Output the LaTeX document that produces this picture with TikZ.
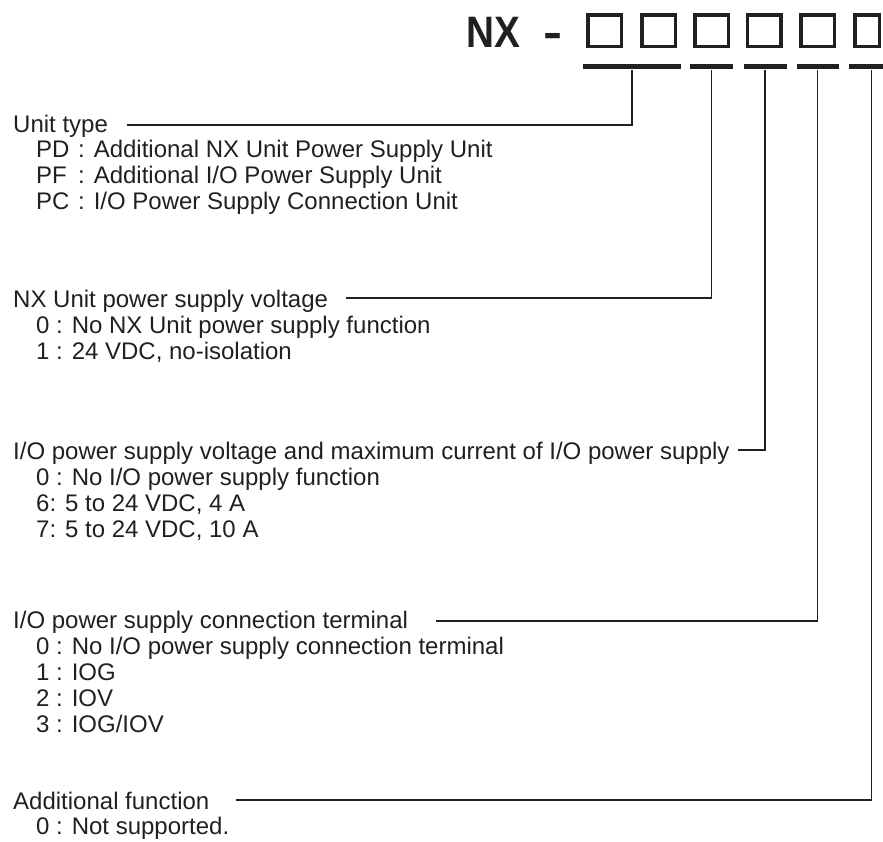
\documentclass[tikz,border=0pt]{standalone}
\usepackage{fontspec}
\setmainfont{Liberation Sans}
\definecolor{ink}{HTML}{231F20}
\begin{document}
\begin{tikzpicture}[x=1pt,y=-1pt,
  txt/.style={anchor=base west, inner sep=0pt, font=\fontsize{24}{28}\selectfont, text=ink},
  title/.style={anchor=base west, inner sep=0pt, font=\fontsize{44}{48}\selectfont\bfseries, text=ink},
  digit/.style={draw=ink, line width=3.5pt, minimum width=33.5pt, minimum height=31.5pt, inner sep=0pt},
  bar/.style={fill=ink, inner sep=0pt, minimum height=5pt},
  conn/.style={draw=ink, line width=1.3pt}]
\useasboundingbox (0,0) rectangle (883,841);
\clip (0,0) rectangle (883,841);
% title
\node[title] (nx) at (466,47) {\scalebox{0.88}[1]{NX}};
\node[title] (dash) at (543,47) {\scalebox{1.3}[1]{-}};
% digit boxes
\node[digit] (c1) at (604.8,30.5) {};
\node[digit] (c2) at (658.8,30.5) {};
\node[digit] (c3) at (711.5,30.5) {};
\node[digit] (c4) at (764.2,30.5) {};
\node[digit] (c5) at (817.5,30.5) {};
\node[digit, minimum width=24.5pt] (c6) at (867.2,30.5) {};
% bars
\node[bar, minimum width=98pt] (b1) at (632,66.8) {};
\node[bar, minimum width=43pt] (b2) at (711.6,66.8) {};
\node[bar, minimum width=43pt] (b3) at (765,66.8) {};
\node[bar, minimum width=42pt] (b4) at (817.7,66.8) {};
\node[bar, minimum width=46pt] (b5) at (871.8,66.8) {};
% section 1
\node[txt] (h1) at (13,132) {Unit type};
\node[txt] (i11) at (36,157) {\makebox[42pt][l]{PD}: Additional NX Unit Power Supply Unit};
\node[txt] (i12) at (36,183) {\makebox[42pt][l]{PF}: Additional I/O Power Supply Unit};
\node[txt] (i13) at (36,209) {\makebox[42pt][l]{PC}: I/O Power Supply Connection Unit};
% section 2
\node[txt] (h2) at (13,307) {NX Unit power supply voltage};
\node[txt] (i21) at (36,333) {0 : No NX Unit power supply function};
\node[txt] (i22) at (36,359) {1 : 24 VDC, no-isolation};
% section 3
\node[txt] (h3) at (13,459) {I/O power supply voltage and maximum current of I/O power supply};
\node[txt] (i31) at (36,485) {0 : No I/O power supply function};
\node[txt] (i32) at (36,511) {6: 5 to 24 VDC, 4 A};
\node[txt] (i33) at (36,537) {7: 5 to 24 VDC, 10 A};
% section 4
\node[txt] (h4) at (13,628) {I/O power supply connection terminal};
\node[txt] (i41) at (36,654) {0 : No I/O power supply connection terminal};
\node[txt] (i42) at (36,680) {1 : IOG};
\node[txt] (i43) at (36,706) {2 : IOV};
\node[txt] (i44) at (36,732) {3 : IOG/IOV};
% section 5
\node[txt] (h5) at (13,809) {Additional function};
\node[txt] (i51) at (36,834) {0 : Not supported.};
% connector starts
\coordinate (s1) at (127,125);
\coordinate (s2) at (346,298);
\coordinate (s3) at (738,450);
\coordinate (s4) at (436,621);
\coordinate (s5) at (236,800);
\draw[conn] (s1) -| (b1.south);
\draw[conn] (s2) -| (b2.south);
\draw[conn] (s3) -| (b3.south);
\draw[conn] (s4) -| (b4.south);
\draw[conn] (s5) -| (b5.south);
\end{tikzpicture}
\end{document}
